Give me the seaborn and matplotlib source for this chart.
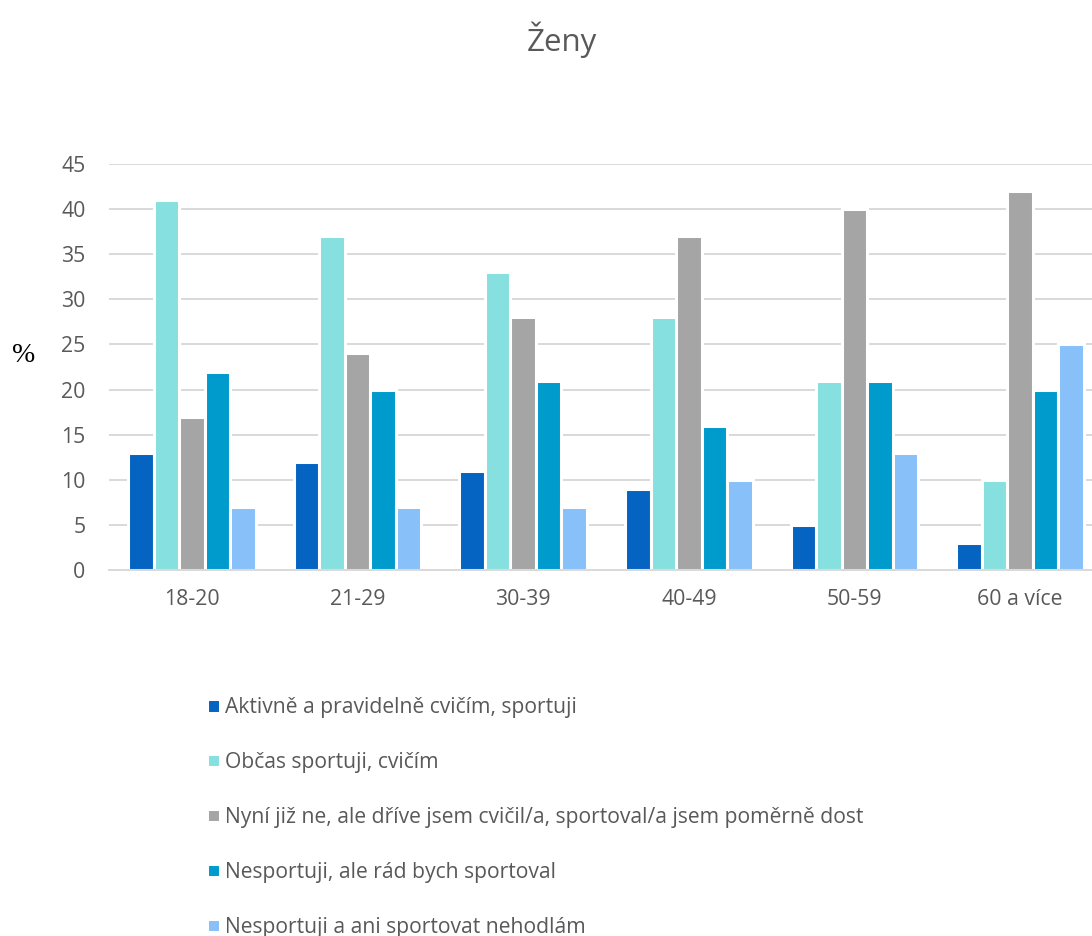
import matplotlib
matplotlib.use("Agg")
import matplotlib.pyplot as plt
import seaborn as sns
import pandas as pd

# Age groups and answer categories
age_groups = ["18-20", "21-29", "30-39", "40-49", "50-59", "60 a více"]
answers = [
    "Aktivně a pravidelně cvičím, sportuji",
    "Občas sportuji, cvičím",
    "Nyní již ne, ale dříve jsem cvičil/a, sportoval/a jsem poměrně dost",
    "Nesportuji, ale rád bych sportoval",
    "Nesportuji a ani sportovat nehodlám",
]

# Percentages per answer, one value per age group
aktivne = [13, 12, 11, 9, 5, 3]
obcas = [41, 37, 33, 28, 21, 10]
drive = [17, 24, 28, 37, 40, 42]
rad_bych = [22, 20, 21, 16, 21, 20]
nehodlam = [7, 7, 7, 10, 13, 25]

colors = ["#0563C1", "#86E0E0", "#A5A5A5", "#009BCD", "#88C0F9"]

series = [aktivne, obcas, drive, rad_bych, nehodlam]
rows = []
for ans, vals in zip(answers, series):
    for age, v in zip(age_groups, vals):
        rows.append({"Věk": age, "Odpověď": ans, "Podíl": v})
df = pd.DataFrame(rows)

sns.set_theme(style="white")
plt.rcParams["font.family"] = ["Open Sans", "DejaVu Sans"]

fig = plt.figure(figsize=(10.92, 9.36), dpi=100)
ax = fig.add_axes([109 / 1092, 1 - 570 / 936, (1103 - 109) / 1092, (570 - 164) / 936])

sns.barplot(
    data=df, x="Věk", y="Podíl", hue="Odpověď", order=age_groups,
    hue_order=answers, palette=colors, width=0.77, saturation=1,
    edgecolor="white", linewidth=2.2, ax=ax, legend=True,
)

ax.set_ylim(0, 45)
ax.set_yticks(range(0, 46, 5))
ax.set_xlim(-0.5, len(age_groups) - 0.5)
ax.yaxis.grid(True, color="#D9D9D9", linewidth=1.4)
ax.set_axisbelow(True)
for side in ["top", "right", "left"]:
    ax.spines[side].set_visible(False)
ax.spines["bottom"].set_color("#D9D9D9")
ax.spines["bottom"].set_linewidth(1.4)
ax.tick_params(axis="both", length=0, labelsize=15.3, colors="#595959")
ax.tick_params(axis="x", pad=14)
ax.tick_params(axis="y", pad=17)
ax.set_xlabel("")
ax.set_ylabel("")

fig.text(24 / 1092, 1 - 356 / 936, "%", family="Liberation Serif", fontsize=20,
         color="black", ha="center", va="center")
fig.text(562 / 1092, 1 - 40 / 936, "Ženy", fontsize=22.5, color="#595959",
         ha="center", va="center")

handles, labels = ax.get_legend_handles_labels()
ax.legend_.remove()
fig.legend(
    handles, labels, loc="upper left", bbox_to_anchor=(199 / 1092, 1 - 689 / 936),
    frameon=False, fontsize=15.2, labelcolor="#595959", handlelength=0.58,
    handleheight=0.58, handletextpad=0.25, labelspacing=1.6, borderaxespad=0,
)

fig.savefig("out.png", dpi=100)
